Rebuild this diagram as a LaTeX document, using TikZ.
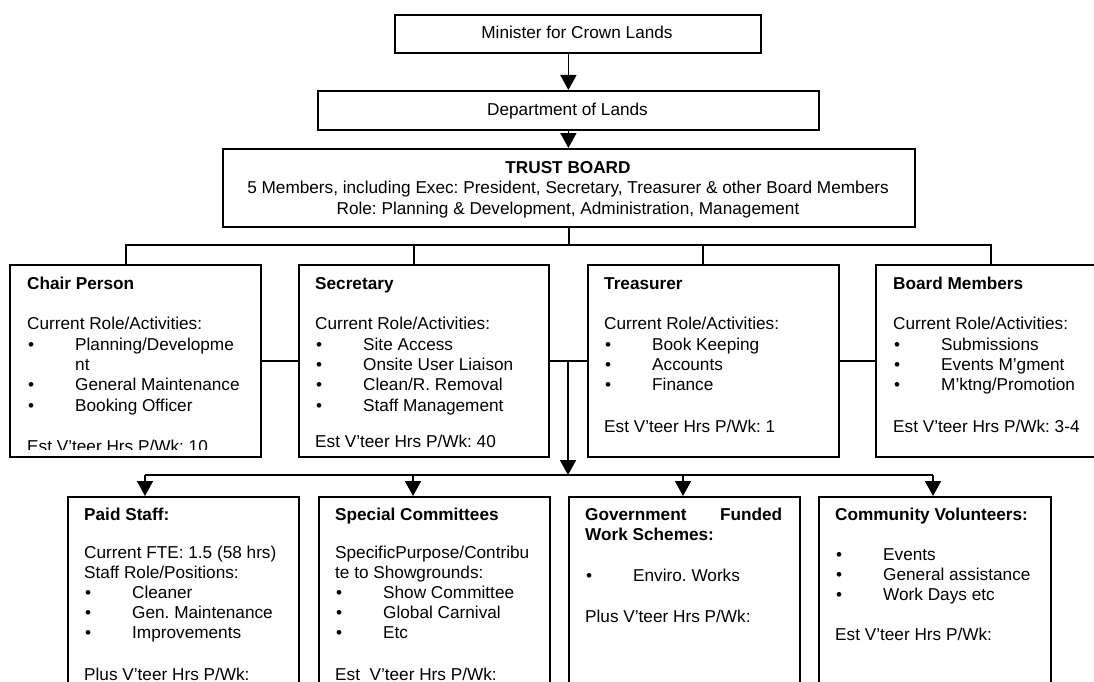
\documentclass[tikz,border=0pt]{standalone}
\usepackage{fontspec}
\setmainfont{Liberation Sans}
\usetikzlibrary{arrows.meta,calc}
\frenchspacing
\newcommand\itm{\makebox[48pt][l]{\hspace{1pt}\textbullet}}
\newcommand\cnt{\hspace*{48pt}}
\newcommand\blk[3]{\foreach \lny/\lntxt [count=\lni] in {#3} {\node[txt] (#1-\lni) at (#2,\lny) {\lntxt};}}
\begin{document}
\begin{tikzpicture}[x=1pt,y=-1pt,
 box/.style={draw,fill=white,line width=1.8pt,inner sep=0pt,anchor=north west},
 txt/.style={anchor=base west,inner sep=0pt,font=\fontsize{17.2}{20.5}\selectfont\frenchspacing},
 ctxt/.style={txt,anchor=base},
 conn/.style={line width=1.6pt},
 arr/.style={conn,-{Triangle[length=15pt,width=16pt]}}]
\useasboundingbox (0,0) rectangle (1094,682);
% boxes
\node[box,minimum width=366pt,minimum height=38pt] (minister) at (394,14) {};
\node[box,minimum width=501pt,minimum height=39pt] (dept) at (317,90) {};
\node[box,minimum width=692pt,minimum height=78pt] (trust) at (222,148) {};
\node[box,minimum width=251pt,minimum height=192pt] (chair) at (9,264) {};
\node[box,minimum width=250pt,minimum height=192pt] (sec) at (298,264) {};
\node[box,minimum width=251pt,minimum height=192pt] (tre) at (587,264) {};
\node[box,minimum width=251pt,minimum height=192pt] (board) at (875,264) {};
\node[box,minimum width=231pt,minimum height=210pt] (paid) at (67,496) {};
\node[box,minimum width=231pt,minimum height=210pt] (spec) at (318,496) {};
\node[box,minimum width=231pt,minimum height=210pt] (govt) at (568,496) {};
\node[box,minimum width=232pt,minimum height=210pt] (comm) at (818,496) {};
% top texts
\node[ctxt] (minister-t) at (577,39) {Minister for Crown Lands};
\node[ctxt] (dept-t) at (567.5,116) {Department of Lands};
\node[ctxt] (trust-t1) at (568,173) {\textbf{TRUST BOARD}};
\node[ctxt] (trust-t2) at (568,193.5) {5 Members, including Exec: President, Secretary, Treasurer \& other Board Members};
\node[ctxt] (trust-t3) at (568,214) {Role: Planning \& Development, Administration, Management};
% middle texts
\begin{scope}
\clip (chair.north west) rectangle ($(chair.south east)+(0,-8)$);
\blk{chair}{27}{289/{\textbf{Chair Person}}, 329/{Current Role/Activities:}, 350/{\itm Planning/Developme}, 370/{\cnt nt}, 390/{\itm General Maintenance}, 411/{\itm Booking Officer}, 452/{Est V’teer Hrs P/Wk: 10}}
\end{scope}
\begin{scope}
\clip (sec.north west) rectangle ($(sec.south east)+(0,-8)$);
\blk{sec}{315}{289/{\textbf{Secretary}}, 329/{Current Role/Activities:}, 350/{\itm Site Access}, 370/{\itm Onsite User Liaison}, 390/{\itm Clean/R. Removal}, 411/{\itm Staff Management}, 447/{Est V’teer Hrs P/Wk: 40}}
\end{scope}
\blk{tre}{604}{289/{\textbf{Treasurer}}, 329/{Current Role/Activities:}, 350/{\itm Book Keeping}, 370/{\itm Accounts}, 390/{\itm Finance}, 432/{Est V’teer Hrs P/Wk: 1}}
\blk{board}{893}{289/{\textbf{Board Members}}, 329/{Current Role/Activities:}, 350/{\itm Submissions}, 370/{\itm Events M’gment}, 390/{\itm M’ktng/Promotion}, 432/{Est V’teer Hrs P/Wk: 3-4}}
% bottom texts
\blk{paid}{84}{520/{\textbf{Paid Staff:}}, 558/{Current FTE: 1.5 (58 hrs)}, 578/{Staff Role/Positions:}, 598/{\itm Cleaner}, 618/{\itm Gen. Maintenance}, 638/{\itm Improvements}, 680/{Plus V’teer Hrs P/Wk:}}
\blk{spec}{335}{520/{\textbf{Special Committees}}, 558/{SpecificPurpose/Contribu}, 578/{te to Showgrounds:}, 598/{\itm Show Committee}, 618/{\itm Global Carnival}, 638/{\itm Etc}, 680/{Est\ \ V’teer Hrs P/Wk:}}
\blk{govt}{585}{520/{\makebox[197pt][l]{\textbf{Government}\hfill\textbf{Funded}}}, 540/{\textbf{Work Schemes:}}, 581/{\itm Enviro. Works}, 622/{Plus V’teer Hrs P/Wk:}}
\blk{comm}{835}{520/{\textbf{Community Volunteers:}}, 560/{\itm Events}, 580/{\itm General assistance}, 600/{\itm Work Days etc}, 640/{Est V’teer Hrs P/Wk:}}
% connectors
\draw[arr] (minister.south -| dept.north) -- (dept.north);
\draw[arr] (dept.south) -- (dept.south |- trust.north);
\coordinate (b1) at (126,245);
\coordinate (b2) at (414,245);
\coordinate (b3) at (703,245);
\coordinate (b4) at (991,245);
\draw[conn] (trust.south) -- (trust.south |- b1);
\draw[conn] (b1 |- chair.north) -- (b1) -- (b4) -- (b4 |- board.north);
\draw[conn] (b2) -- (b2 |- sec.north);
\draw[conn] (b3) -- (b3 |- tre.north);
\draw[conn] (chair.east) -- (sec.west);
\draw[conn] (sec.east) -- (tre.west);
\draw[conn] (tre.east) -- (board.west);
\coordinate (mid) at (568,360);
\coordinate (c1) at (145,475);
\coordinate (c2) at (413,475);
\coordinate (c3) at (683,475);
\coordinate (c4) at (933,475);
\draw[arr] (mid) -- (mid |- c1);
\draw[conn] (c1) -- (c4);
\draw[arr] (c1) -- (c1 |- paid.north);
\draw[arr] (c2) -- (c2 |- spec.north);
\draw[arr] (c3) -- (c3 |- govt.north);
\draw[arr] (c4) -- (c4 |- comm.north);
\end{tikzpicture}
\end{document}
